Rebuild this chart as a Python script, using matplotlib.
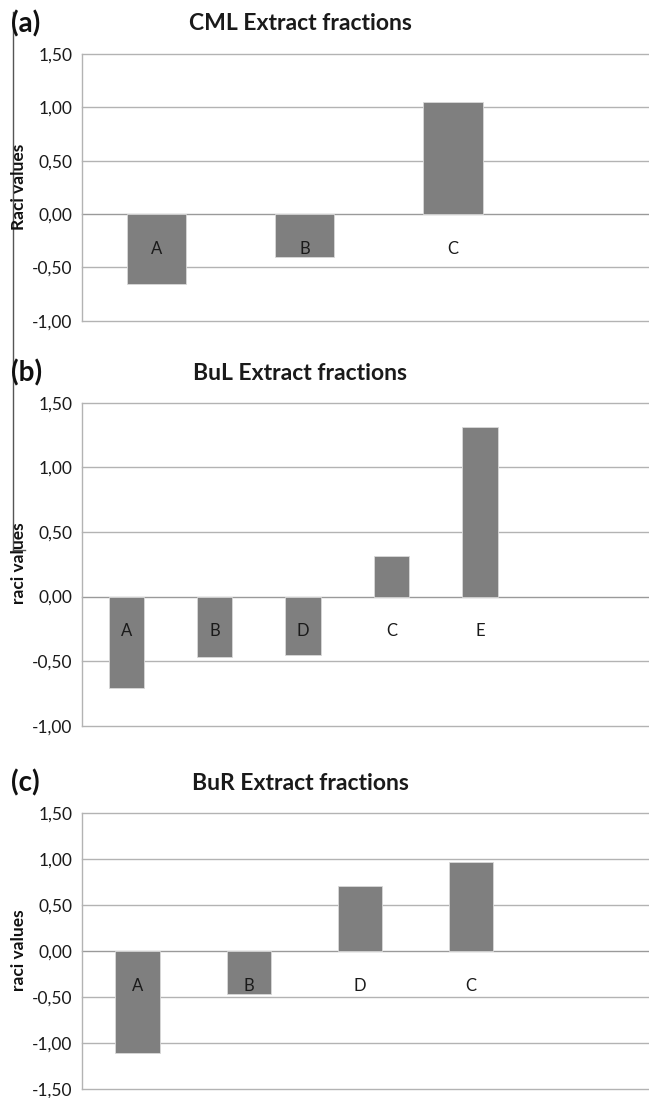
import matplotlib
matplotlib.use("Agg")
import matplotlib.pyplot as plt
from matplotlib.lines import Line2D

plt.rcParams['font.family'] = ['Lato', 'DejaVu Sans']

# ---- data ----
cats_a = ["A", "B", "C"]
vals_a = [-0.66, -0.40, 1.05]
cats_b = ["A", "B", "D", "C", "E"]
vals_b = [-0.71, -0.47, -0.45, 0.31, 1.31]
cats_c = ["A", "B", "D", "C"]
vals_c = [-1.11, -0.46, 0.71, 0.97]

titles = ["CML Extract fractions", "BuL Extract fractions", "BuR Extract fractions"]
panel_tags = ["(a)", "(b)", "(c)"]
ylabels = ["Raci values", "raci values", "raci values"]
yticks_a = [-1.0, -0.5, 0.0, 0.5, 1.0, 1.5]
yticks_b = [-1.0, -0.5, 0.0, 0.5, 1.0, 1.5]
yticks_c = [-1.5, -1.0, -0.5, 0.0, 0.5, 1.0, 1.5]

W, H = 649, 1098
fig = plt.figure(figsize=(W / 100, H / 100), dpi=100)

def fx(px):
    return px / W

def fy(py):
    return 1 - py / H

# panel layouts in pixels: (top, bottom, xlim_right, title_y, ylabel_y)
layouts = [
    (54, 320.7, 3.32, 24, 187),
    (402.7, 725.7, 5.91, 373, 563),
    (813.3, 1089.3, 4.60, 783, 950),
]
datasets = [(cats_a, vals_a, yticks_a), (cats_b, vals_b, yticks_b), (cats_c, vals_c, yticks_c)]

left_px = 82
bar_color = "#7f7f7f"
grid_color = "#b3b3b3"

for i, ((cats, vals, yt), (top, bot, xr, ty, yly)) in enumerate(zip(datasets, layouts)):
    ax = fig.add_axes([fx(left_px), fy(bot), 1 - fx(left_px), fy(top) - fy(bot)])
    x = list(range(len(cats)))
    ax.bar(x, vals, width=0.4, color=bar_color, edgecolor="#d9d9d9", linewidth=0.6, zorder=3)
    ax.set_xlim(-0.5, xr)
    ax.set_ylim(yt[0], yt[-1])
    ax.set_yticks(yt)
    ax.set_yticklabels([f"{v:.2f}".replace(".", ",") for v in yt], fontsize=12.5, color="#1a1a1a")
    ax.set_xticks([])
    for v in yt:
        ax.axhline(v, color=grid_color if v != 0 else "#9a9a9a", linewidth=1.0, zorder=1, clip_on=False)
    for s in ["top", "right", "bottom"]:
        ax.spines[s].set_visible(False)
    ax.spines["left"].set_color(grid_color)
    ax.spines["left"].set_linewidth(1.0)
    ax.tick_params(axis="y", length=0, pad=7)
    for xi, c in zip(x, cats):
        ax.annotate(c, xy=(xi, 0), xytext=(0, -25), textcoords="offset points",
                    ha="center", va="center", fontsize=12, color="#1a1a1a", zorder=4)
    fig.text(fx(300), fy(ty), titles[i], ha="center", va="center",
             fontsize=16.5, fontweight="bold", color="#1a1a1a")
    fig.text(fx(11), fy(ty), panel_tags[i], ha="left", va="center",
             fontsize=20, fontweight="bold", color="#111111")
    fig.text(fx(19), fy(yly), ylabels[i], ha="center", va="center", rotation=90,
             fontsize=12.5, fontweight="bold", color="#111111")

# stray vertical rule at the left of the figure
fig.add_artist(Line2D([fx(13), fx(13)], [fy(12), fy(550)], color="#555555", linewidth=1.0))
fig.add_artist(Line2D([fx(13), fx(25)], [fy(550), fy(550)], color="#555555", linewidth=1.0))

fig.savefig("out.png", dpi=100, facecolor="white")
